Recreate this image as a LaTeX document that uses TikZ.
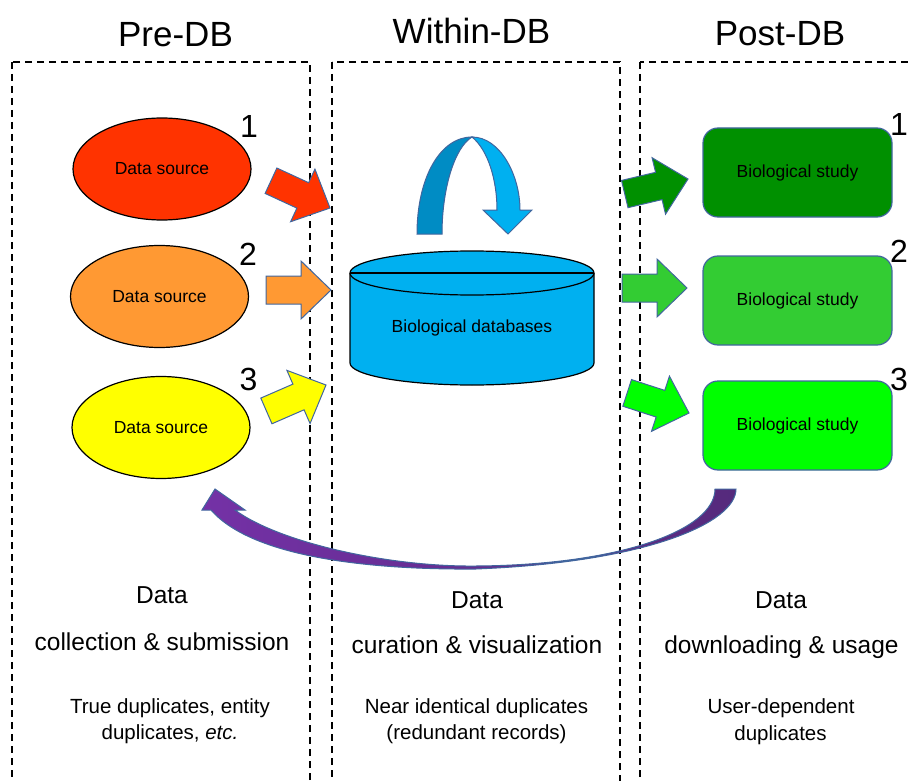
\documentclass[tikz,border=0pt]{standalone}
\usepackage{fontspec}
\setmainfont{Liberation Sans}
\usetikzlibrary{shapes.geometric}
\definecolor{srcA}{HTML}{FF3300}
\definecolor{srcB}{HTML}{FF9933}
\definecolor{srcC}{HTML}{FFFF00}
\definecolor{stA}{HTML}{009000}
\definecolor{stB}{HTML}{33CC33}
\definecolor{stC}{HTML}{00FF00}
\definecolor{dbblue}{HTML}{00B0F0}
\definecolor{dbdark}{HTML}{008CC4}
\definecolor{abord}{HTML}{41669E}
\definecolor{purA}{HTML}{7431A6}
\definecolor{purB}{HTML}{552A7C}
\tikzset{
  titletxt/.style={font=\fontsize{35}{42}\selectfont, anchor=base, inner sep=0pt},
  numtxt/.style={font=\fontsize{32}{38}\selectfont, anchor=base, inner sep=0pt},
  srcnode/.style={ellipse, draw=black, line width=1.2pt, minimum width=178pt, minimum height=102pt, inner sep=0pt, font=\fontsize{17.5}{21}\selectfont},
  studynode/.style={rectangle, rounded corners=15pt, draw=abord, line width=1.2pt, minimum width=189pt, minimum height=89pt, inner sep=0pt, font=\fontsize{17.5}{21}\selectfont},
  phasebox/.style={dash pattern=on 7pt off 5pt, line width=1.5pt, draw=black},
  bigtxt/.style={font=\fontsize{24.5}{29}\selectfont, anchor=base, inner sep=0pt},
  smalltxt/.style={font=\fontsize{20.5}{27}\selectfont, anchor=base, inner sep=0pt},
  arrowline/.style={draw=abord, line width=1pt},
  blockarr/.pic={\filldraw[fill=#1, arrowline] (-65,-14) -- (-30,-14) -- (-30,-29) -- (0,0) -- (-30,29) -- (-30,14) -- (-65,14) -- cycle;}
}
\begin{document}
\begin{tikzpicture}[x=1pt,y=-1pt]
\useasboundingbox (0,0) rectangle (908,781);
\clip (0,0) rectangle (908,781);
% titles
\node[titletxt] (tpre) at (175.5,46.5) {Pre-DB};
\node[titletxt] (twithin) at (471.5,44) {Within-DB};
\node[titletxt] (tpost) at (780,46) {Post-DB};
% phase boxes
\draw[phasebox] (12,62) rectangle (310,800);
\draw[phasebox] (332,62) rectangle (620,800);
\draw[phasebox] (640,62) rectangle (930,800);
% data sources
\node[srcnode, fill=srcA] (s1) at (162,169) {Data source};
\node[srcnode, fill=srcB] (s2) at (159.5,296.5) {Data source};
\node[srcnode, fill=srcC] (s3) at (161,427.5) {Data source};
\node[numtxt] (n1) at (249,138) {1};
\node[numtxt] (n2) at (248,265) {2};
\node[numtxt] (n3) at (248.5,390) {3};
% block arrows into DB
\pic[rotate=-24.8] at (330,208) {blockarr=srcA};
\pic at (331,290) {blockarr=srcB};
\pic[rotate=23.5] at (326,385) {blockarr=srcC};
% database cylinder
\filldraw[fill=dbblue, draw=black, line width=1.2pt] (350,273) -- (350,363) arc[start angle=180, end angle=0, x radius=122, y radius=22] -- (594,273) arc[start angle=0, end angle=-180, x radius=122, y radius=22] -- cycle;
\draw[line width=1.2pt] (350,273) arc[start angle=180, end angle=0, x radius=122, y radius=22];
\draw[line width=1.2pt] (350,273) -- (594,273);
\node[font=\fontsize{17.5}{21}\selectfont] (db) at (472,328) {Biological databases};
% U-turn arrow
\filldraw[fill=dbdark, arrowline] (417,234) .. controls (417,178) and (440,137) .. (472,137) .. controls (454,148) and (442,190) .. (442,234) -- cycle;
\filldraw[fill=dbblue, arrowline] (472,137) .. controls (500,137) and (520,175) .. (520,210) -- (532,210) -- (508,234) -- (483,210) -- (497,210) .. controls (497,180) and (488,150) .. (472,137) -- cycle;
% studies
\node[studynode, fill=stA] (b1) at (797.5,172.5) {Biological study};
\node[studynode, fill=stB] (b2) at (797.5,300.5) {Biological study};
\node[studynode, fill=stC] (b3) at (797.5,425.5) {Biological study};
\node[numtxt] (m1) at (899,136) {1};
\node[numtxt] (m2) at (899,262) {2};
\node[numtxt] (m3) at (899,390) {3};
% block arrows out of DB
\pic[rotate=13.4] at (688,179) {blockarr=stA};
\pic at (687,288) {blockarr=stB};
\pic[rotate=-18] at (689,413) {blockarr=stC};
% feedback arrow
\path[arrowline, left color=purA, right color=purB] (736,489) .. controls (736,522) and (650,562) .. (476,569) .. controls (360,570) and (250,555) .. (211,510) -- (202,510) -- (215,489) -- (245,510) -- (235,510) .. controls (280,543) and (390,567) .. (476,566) .. controls (620,565) and (715,530) .. (715,489) -- cycle;
% bottom texts
\node[bigtxt] (d1) at (162,603) {Data};
\node[bigtxt] (c1) at (162,650) {collection \& submission};
\node[smalltxt] (u1) at (170,713) {True duplicates, entity};
\node[smalltxt] (v1) at (170,739) {duplicates, \textit{etc.}};
\node[bigtxt] (d2) at (477,608) {Data};
\node[bigtxt] (c2) at (477,653) {curation \& visualization};
\node[smalltxt] (u2) at (476.5,713) {Near identical duplicates};
\node[smalltxt] (v2) at (476.5,739) {(redundant records)};
\node[bigtxt] (d3) at (781,608) {Data};
\node[bigtxt] (c3) at (781.5,653) {downloading \& usage};
\node[smalltxt] (u3) at (781,713) {User-dependent};
\node[smalltxt] (v3) at (780.5,740) {duplicates};
\end{tikzpicture}
\end{document}
